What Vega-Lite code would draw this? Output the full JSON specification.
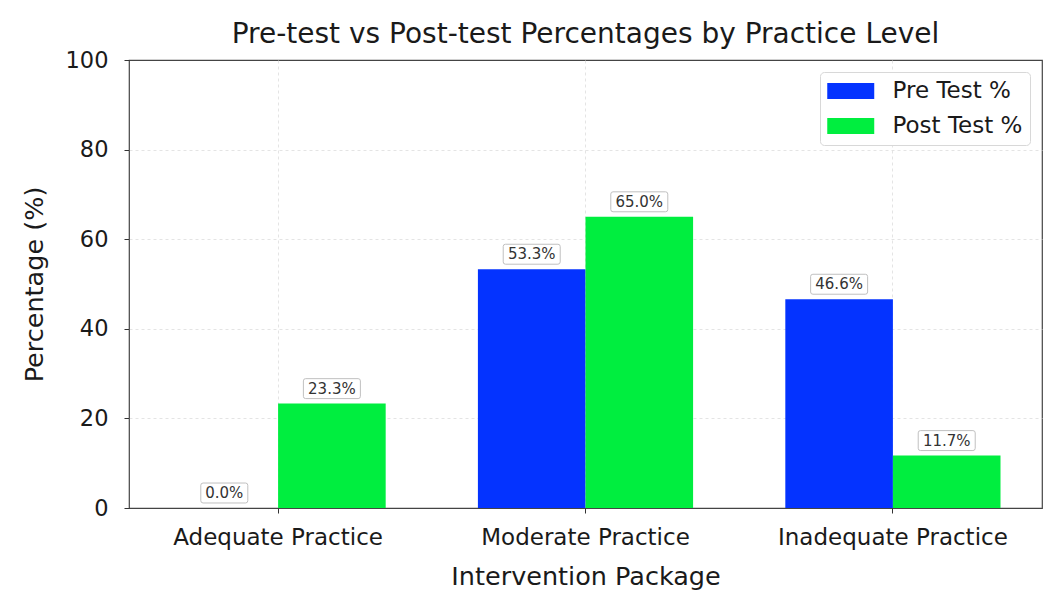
{
  "$schema": "https://vega.github.io/schema/vega-lite/v6.json",
  "width": 913,
  "height": 448,
  "autosize": "none",
  "padding": {"left": 129, "top": 60, "right": 3, "bottom": 83},
  "background": "white",
  "title": {
    "text": "Pre-test vs Post-test Percentages by Practice Level",
    "font": "DejaVu Sans",
    "fontSize": 28,
    "fontWeight": "normal",
    "color": "#1a1a1a",
    "anchor": "middle",
    "offset": 0
  },
  "config": {
    "font": "DejaVu Sans",
    "view": {"stroke": "#444", "strokeWidth": 1.2},
    "axis": {
      "labelFont": "DejaVu Sans",
      "titleFont": "DejaVu Sans",
      "labelColor": "#1a1a1a",
      "titleColor": "#1a1a1a",
      "titleFontWeight": "normal",
      "domain": false,
      "tickColor": "#333",
      "tickSize": 5,
      "gridColor": "#dddddd",
      "gridDash": [3, 3],
      "gridWidth": 0.8,
      "labelLimit": 0
    }
  },
  "data": {
    "values": [
      {"Category": "Adequate Practice", "Test": "Pre Test %", "value": 0.0},
      {"Category": "Adequate Practice", "Test": "Post Test %", "value": 23.3},
      {"Category": "Moderate Practice", "Test": "Pre Test %", "value": 53.3},
      {"Category": "Moderate Practice", "Test": "Post Test %", "value": 65.0},
      {"Category": "Inadequate Practice", "Test": "Pre Test %", "value": 46.6},
      {"Category": "Inadequate Practice", "Test": "Post Test %", "value": 11.7}
    ]
  },
  "transform": [
    {"calculate": "format(datum.value, '.1f') + '%'", "as": "label"}
  ],
  "encoding": {
    "x": {
      "field": "Category",
      "type": "nominal",
      "sort": ["Adequate Practice", "Moderate Practice", "Inadequate Practice"],
      "scale": {"paddingInner": 0.3, "paddingOuter": 0.135},
      "axis": {
        "title": "Intervention Package",
        "labelAngle": 0,
        "labelFontSize": 23,
        "titleFontSize": 25.5,
        "labelPadding": 13,
        "titlePadding": 15,
        "grid": true,
        "bandPosition": 0.5
      }
    },
    "xOffset": {
      "field": "Test",
      "type": "nominal",
      "sort": ["Pre Test %", "Post Test %"]
    },
    "y": {
      "field": "value",
      "type": "quantitative",
      "scale": {"domain": [0, 100], "nice": false},
      "axis": {
        "title": "Percentage (%)",
        "values": [0, 20, 40, 60, 80, 100],
        "labelFontSize": 22.5,
        "titleFontSize": 25.5,
        "labelPadding": 16,
        "titlePadding": 18,
        "grid": true,
        "gridOpacity": {
          "condition": {"test": "datum.value === 0 || datum.value === 100", "value": 0},
          "value": 1
        }
      }
    }
  },
  "layer": [
    {
      "mark": {"type": "bar"},
      "encoding": {
        "color": {
          "field": "Test",
          "type": "nominal",
          "sort": ["Pre Test %", "Post Test %"],
          "scale": {"domain": ["Pre Test %", "Post Test %"], "range": ["#0433ff", "#00ee3f"]},
          "legend": {
            "title": null,
            "orient": "top-right",
            "offset": 12,
            "fillColor": "white",
            "strokeColor": "#d8d8d8",
            "cornerRadius": 4,
            "padding": 7,
            "labelFont": "DejaVu Sans",
            "labelFontSize": 23,
            "labelColor": "#1a1a1a",
            "labelOffset": 41.5,
            "rowPadding": 11,
            "symbolType": "M-1,-0.68L3,-0.68L3,0.68L-1,0.68Z",
            "symbolSize": 552,
            "symbolStrokeWidth": 0,
            "symbolOpacity": 1
          }
        }
      }
    },
    {
      "mark": {
        "type": "point",
        "filled": true,
        "fill": "white",
        "stroke": "#c0c0c0",
        "strokeWidth": 1,
        "opacity": 1,
        "size": 3249,
        "yOffset": -15
      },
      "encoding": {
        "shape": {
          "condition": {
            "test": "datum.value < 10",
            "value": "M-0.745,-0.35L0.745,-0.35Q0.825,-0.35 0.825,-0.27L0.825,0.27Q0.825,0.35 0.745,0.35L-0.745,0.35Q-0.825,0.35 -0.825,0.27L-0.825,-0.27Q-0.825,-0.35 -0.745,-0.35Z"
          },
          "value": "M-0.92,-0.35L0.92,-0.35Q1,-0.35 1,-0.27L1,0.27Q1,0.35 0.92,0.35L-0.92,0.35Q-1,0.35 -1,0.27L-1,-0.27Q-1,-0.35 -0.92,-0.35Z"
        }
      }
    },
    {
      "mark": {
        "type": "text",
        "baseline": "middle",
        "align": "center",
        "yOffset": -15,
        "font": "DejaVu Sans",
        "fontSize": 15,
        "color": "#333333"
      },
      "encoding": {
        "text": {"field": "label", "type": "nominal"}
      }
    }
  ]
}
